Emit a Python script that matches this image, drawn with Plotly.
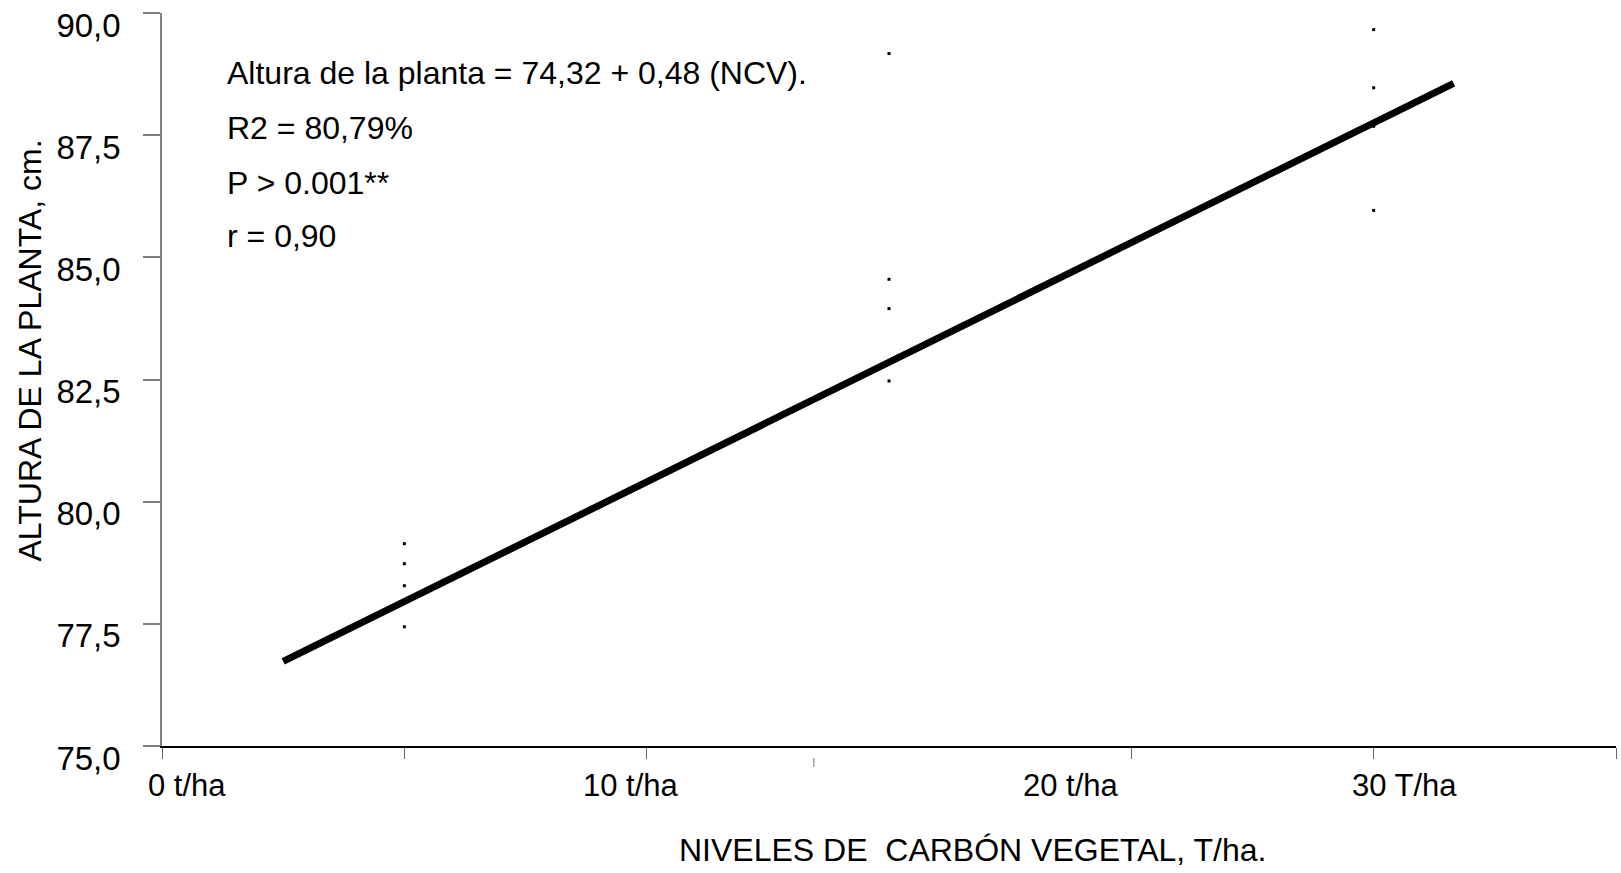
import plotly.graph_objects as go

# ---- data ----
x_positions = [1, 1, 1, 1, 3, 3, 3, 3, 5, 5, 5, 5]          # tick index positions of the 3 groups
plant_height = [79.14, 78.73, 78.28, 77.44,
                89.17, 84.55, 83.95, 82.47,
                89.66, 88.47, 87.68, 85.96]

fit_x = [0.50, 5.33]
fit_y = [76.73, 88.56]

y_tick_vals = [75.0, 77.5, 80.0, 82.5, 85.0, 87.5, 90.0]
y_tick_text = ["75,0", "77,5", "80,0", "82,5", "85,0", "87,5", "90,0"]

x_tick_vals = [0, 1, 2, 4, 5, 6]
x_label_pos = [0.103, 1.934, 3.75, 5.128]
x_label_text = ["0 t/ha", "10 t/ha", "20 t/ha", "30 T/ha"]

stats_lines = ["Altura de la planta = 74,32 + 0,48 (NCV).",
               "R2 = 80,79%",
               "P > 0.001**",
               "r = 0,90"]
stats_y = [88.77, 87.65, 86.53, 85.43]

FONT = "Liberation Sans, Arial, sans-serif"
FS = 32

fig = go.Figure()
fig.add_trace(go.Scatter(x=fit_x, y=fit_y, mode="lines",
                         line=dict(color="black", width=7), showlegend=False,
                         hoverinfo="skip"))
fig.add_trace(go.Scatter(x=x_positions, y=plant_height, mode="markers",
                         marker=dict(symbol="square", size=3, color="black",
                                     line=dict(width=0)),
                         showlegend=False, cliponaxis=False))

annotations = []
for t, yv in zip(stats_lines, stats_y):
    annotations.append(dict(x=0.262, y=yv, xref="x", yref="y", text=t,
                            showarrow=False, xanchor="left", yanchor="middle",
                            font=dict(family=FONT, size=FS, color="black")))
for t, xv in zip(x_label_text, x_label_pos):
    annotations.append(dict(x=xv, y=-(786 - 746) / 733, xref="x", yref="paper", text=t,
                            showarrow=False, xanchor="center", yanchor="middle",
                            font=dict(family=FONT, size=31, color="black")))
annotations.append(dict(x=(972 - 162) / 1454, y=-(850 - 746) / 733, xref="paper", yref="paper",
                        text="NIVELES DE  CARBÓN VEGETAL, T/ha.", showarrow=False,
                        xanchor="center", yanchor="middle",
                        font=dict(family=FONT, size=FS, color="black")))
annotations.append(dict(x=-(162 - 29) / 1454, y=(746 - 350.5) / 733, xref="paper", yref="paper",
                        text="ALTURA DE LA PLANTA, cm.", textangle=-90, showarrow=False,
                        xanchor="center", yanchor="middle",
                        font=dict(family=FONT, size=FS, color="black")))

fig.update_layout(
    width=1621, height=873,
    margin=dict(l=162, r=5, t=13, b=127),
    paper_bgcolor="white", plot_bgcolor="white",
    font=dict(family=FONT, size=FS, color="black"),
    annotations=annotations,
    shapes=[dict(type="line", xref="x", yref="paper", x0=2.69, x1=2.69,
                 y0=-(758 - 746) / 733, y1=-(767 - 746) / 733,
                 line=dict(color="#777777", width=1))],
    xaxis=dict(range=[0, 6], showgrid=False, zeroline=False,
               showline=True, linecolor="black", linewidth=1.5,
               ticks="outside", ticklen=11, tickcolor="#666666", tickwidth=1,
               tickvals=x_tick_vals, showticklabels=False),
    yaxis=dict(range=[75, 90], showgrid=False, zeroline=False,
               showline=True, linecolor="#808080", linewidth=1.5,
               ticks="outside", ticklen=17, tickcolor="#808080", tickwidth=1.5,
               tickvals=y_tick_vals, ticktext=y_tick_text,
               ticklabelstandoff=16, ticklabelshift=12,
               tickfont=dict(family=FONT, size=33, color="black")),
)

fig.write_html("out.html")
